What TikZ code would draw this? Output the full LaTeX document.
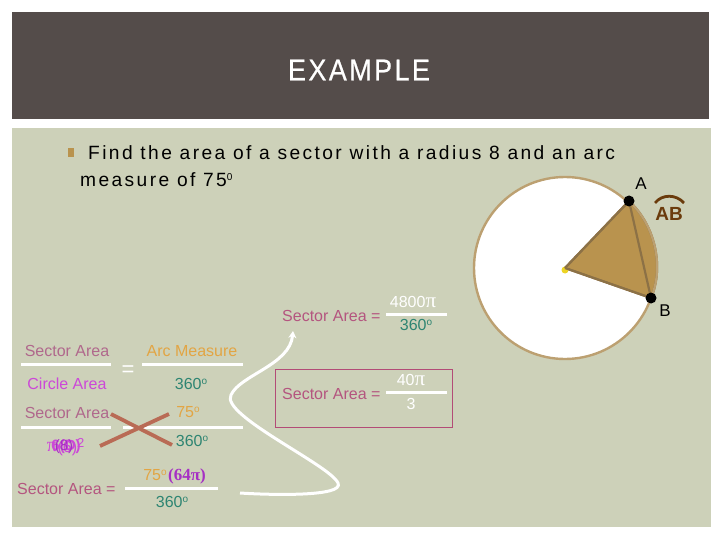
\documentclass[tikz,border=0pt]{standalone}
\usepackage{fontspec}
\setmainfont{Liberation Sans}
\newfontfamily\titlefont[LetterSpace=8,FakeBold=0.6,FakeStretch=0.9]{Liberation Sans}
\newfontfamily\bodyfont[LetterSpace=12.5]{Liberation Sans}
\newfontfamily\mathserif{Liberation Serif}
\usetikzlibrary{arrows.meta}
\definecolor{headbg}{HTML}{544C4A}
\definecolor{bodybg}{HTML}{CDD1B9}
\definecolor{pinkt}{HTML}{B4557F}
\definecolor{palepink}{HTML}{B0688C}
\definecolor{magt}{HTML}{CC48D8}
\definecolor{oranget}{HTML}{E2A544}
\definecolor{tealt}{HTML}{2E8572}
\definecolor{purpt}{HTML}{A62FC4}
\definecolor{crossc}{HTML}{B96B55}
\definecolor{tan1}{HTML}{B9934E}
\definecolor{tan2}{HTML}{8C7146}
\definecolor{rimc}{HTML}{BCA071}
\definecolor{brownt}{HTML}{6A3B0C}
\definecolor{boxc}{HTML}{B34C77}
\newcommand{\degr}{\raisebox{0.55ex}{\fontsize{10}{10}\selectfont o}}
\newcommand{\pisym}{{\mathserif\fontsize{21}{21}\selectfont π}}
\tikzset{
  lbl/.style={inner sep=0pt,font=\fontsize{16}{18}\selectfont},
  fracline/.style={white,line width=3pt},
  crossline/.style={crossc,line width=3.8pt},
  ptdot/.style={circle,fill=black,inner sep=0pt,minimum size=11pt},
}
\begin{document}
\begin{tikzpicture}[x=1pt,y=-1pt]
\useasboundingbox (0,0) rectangle (720,540);
\fill[white] (0,0) rectangle (720,540);
\fill[headbg] (12,12) rectangle (709,119);
\fill[bodybg] (12,128) rectangle (711,527);
\node[white,inner sep=0pt,font=\titlefont\fontsize{30}{32}\selectfont] (title) at (359,70) {EXAMPLE};
\fill[tan1] (68,148) rectangle (74,157);
\node[anchor=base west,inner sep=0pt,font=\bodyfont\fontsize{19.2}{22}\selectfont] (find) at (88,159.5) {Find the area of a sector with a radius 8 and an arc};
\node[anchor=base west,inner sep=0pt,font=\bodyfont\fontsize{19.2}{22}\selectfont] (meas) at (80,186.5) {measure of 75\raisebox{0.55ex}{\fontsize{10}{10}\selectfont 0}};
% circle
\coordinate (O) at (565,268);
\filldraw[white,draw=rimc,line width=2.4pt] (O) circle (91);
\coordinate (A) at (629,201);
\coordinate (B) at (651,298);
\filldraw[fill=tan1,draw=tan2,line width=2.2pt,line join=round] (O) -- (A) .. controls (656,226) and (664,268) .. (B) -- cycle;
\draw[rimc,line width=2.2pt] (A) .. controls (656,226) and (664,268) .. (B);
\draw[tan2,line width=2.2pt] (A) -- (B);
\fill[yellow!70!brown] (O)++(0,2) circle (3.5);
\draw[tan2,line width=2.2pt] (O) -- (A) (O) -- (B);
\node[ptdot] (ptA) at (A) {};
\node[ptdot] (ptB) at (B) {};
\node[inner sep=0pt,font=\fontsize{17}{18}\selectfont] (lA) at (641,184) {A};
\node[inner sep=0pt,font=\fontsize{17}{18}\selectfont] (lB) at (665,311) {B};
\node[inner sep=0pt,text=brownt,font=\bfseries\fontsize{19}{20}\selectfont] (lAB) at (669,214) {AB};
\draw[brownt,line width=2.8pt] (655,203) .. controls (662,194) and (676,194) .. (684,203);
% left block
\node[lbl,text=palepink] (s1) at (67,351) {Sector Area};
\node[lbl,text=oranget] (arc) at (192,351) {Arc Measure};
\draw[fracline] (21,364) -- (111,364);
\draw[fracline] (142,364) -- (243,364);
\node[lbl,text=white,font=\fontsize{22}{22}\selectfont] (eq) at (128,371) {=};
\node[lbl,text=magt] (ca) at (67,384) {Circle Area};
\node[lbl,text=tealt] (d1) at (191,384) {360\degr};
\node[lbl,text=palepink] (s2) at (67,413) {Sector Area};
\node[lbl,text=oranget] (n75) at (188,412) {75\degr};
\draw[fracline] (21,427) -- (111,427);
\draw[fracline] (123,427) -- (243,427);
\node[lbl,text=tealt] (d2) at (192,441) {360\degr};
\node[lbl,text=magt,font=\mathserif\fontsize{20}{20}\selectfont] (g0) at (52,447) {π};
\node[lbl,text=magt,font=\fontsize{16}{16}\selectfont] (g1) at (71,447) {(6)\raisebox{0.6ex}{\fontsize{13}{13}\selectfont 2}};
\node[lbl,text=magt,font=\bfseries\fontsize{15}{16}\selectfont] (g2) at (66,447) {6(D)};
\node[lbl,text=purpt,font=\fontsize{15}{16}\selectfont] (g3) at (64,447) {(8)};
\draw[crossline] (111,414) -- (172,445);
\draw[crossline] (100,446) -- (169,414);
\node[lbl,text=pinkt,anchor=west] (s3) at (17,489) {Sector Area =};
\node[lbl,anchor=base,text=oranget] (n2) at (155,480.5) {75\degr};
\node[lbl,anchor=base,text=purpt,font=\mathserif\bfseries\fontsize{17}{18}\selectfont] (n3) at (187,480.5) {(64π)};
\draw[fracline] (125,488) -- (218,488);
\node[lbl,text=tealt] (d3) at (172,502) {360\degr};
% right block
\node[lbl,text=pinkt,anchor=west] (s4) at (282,316) {Sector Area =};
\node[lbl,text=white] (r1) at (413,302) {4800\pisym};
\draw[fracline] (386,314) -- (447,314);
\node[lbl,text=tealt] (r2) at (416,325) {360\degr};
\draw[boxc,line width=0.9pt] (275,369) rectangle (452,427);
\node[lbl,text=pinkt,anchor=west] (s5) at (282,394) {Sector Area =};
\node[lbl,text=white] (r3) at (411,380) {40\pisym};
\draw[fracline] (386,392) -- (447,392);
\node[lbl,text=white] (r4) at (411,404) {3};
% curve
\coordinate (c0) at (240,493);
\coordinate (c1) at (338,483);
\coordinate (c2) at (231,395);
\coordinate (c3) at (293,331);
\draw[white,line width=3pt,-{Stealth[length=7pt,width=8pt]}] (c0) .. controls (270,495) and (345,497) .. (c1)
  .. controls (330,465) and (220,415) .. (c2)
  .. controls (240,375) and (290,365) .. (c3);
\end{tikzpicture}
\end{document}
